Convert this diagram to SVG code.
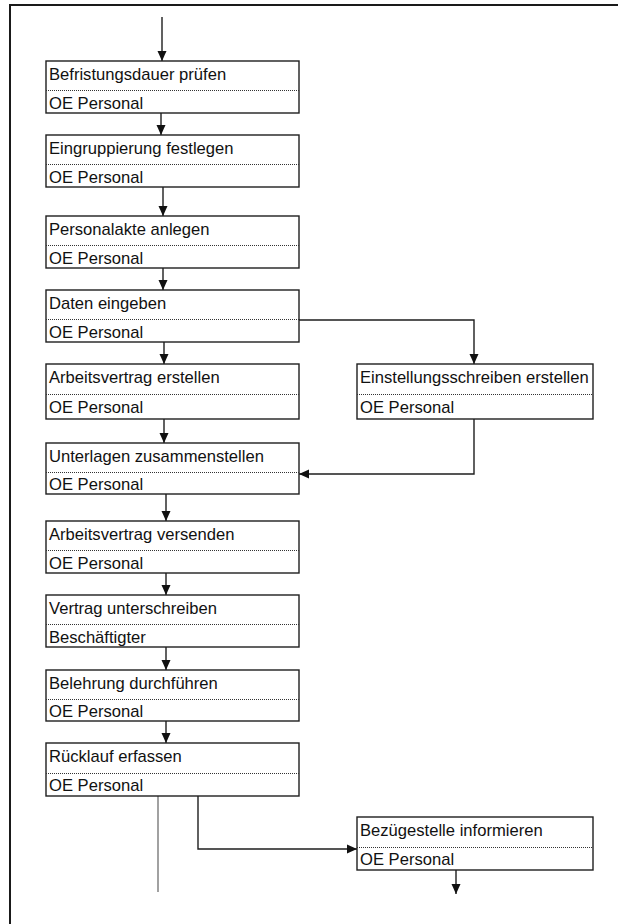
<svg xmlns="http://www.w3.org/2000/svg" width="618" height="924" viewBox="0 0 618 924">
<style>
.box{fill:#fff;stroke:#1e1e1e;stroke-width:1.4}
.sep{stroke:#333;stroke-width:1;stroke-dasharray:1 1}
.t{font-family:"Liberation Sans",Arial,sans-serif;font-size:16.6px;fill:#111}
.c{fill:none;stroke:#1e1e1e;stroke-width:1.4}
.g{fill:none;stroke:#8a8a8a;stroke-width:1.6}
</style>
<defs>
<marker id="ah" markerWidth="10" markerHeight="10" viewBox="0 0 10 10" refX="10" refY="5" orient="auto" markerUnits="userSpaceOnUse">
<path d="M0,0.5 L10,5 L0,9.5 Z" fill="#111"/>
</marker>
</defs>
<rect x="0" y="0" width="618" height="924" fill="#fff"/>
<path d="M10,924 V5 H618" fill="none" stroke="#1a1a1a" stroke-width="2"/>

<g id="connectors">
<path class="c" d="M162,17 V61" marker-end="url(#ah)"/>
<path class="c" d="M161,113 V135" marker-end="url(#ah)"/>
<path class="c" d="M163,187 V216" marker-end="url(#ah)"/>
<path class="c" d="M163,268 V290" marker-end="url(#ah)"/>
<path class="c" d="M164,342 V364" marker-end="url(#ah)"/>
<path class="c" d="M164,419 V443" marker-end="url(#ah)"/>
<path class="c" d="M166,494 V521" marker-end="url(#ah)"/>
<path class="c" d="M166,573 V595" marker-end="url(#ah)"/>
<path class="c" d="M166,647 V670" marker-end="url(#ah)"/>
<path class="c" d="M166,721 V743" marker-end="url(#ah)"/>
<path class="c" d="M299,320 H474 V364" marker-end="url(#ah)"/>
<path class="c" d="M474,419 V474 H299" marker-end="url(#ah)"/>
<path class="g" d="M158,796 V892"/>
<path class="c" d="M198,796 V849 H357" marker-end="url(#ah)"/>
<path class="c" d="M456,870 V894" marker-end="url(#ah)"/>
</g>

<g id="n1">
<rect class="box" x="46" y="61" width="253" height="52"/>
<line class="sep" x1="46" y1="90.5" x2="299" y2="90.5"/>
<text class="t" x="49" y="80">Befristungsdauer prüfen</text>
<text class="t" x="49" y="108.5">OE Personal</text>
</g>
<g id="n2">
<rect class="box" x="46" y="135" width="253" height="52"/>
<line class="sep" x1="46" y1="164.5" x2="299" y2="164.5"/>
<text class="t" x="49" y="154">Eingruppierung festlegen</text>
<text class="t" x="49" y="182.5">OE Personal</text>
</g>
<g id="n3">
<rect class="box" x="46" y="216" width="253" height="52"/>
<line class="sep" x1="46" y1="245.5" x2="299" y2="245.5"/>
<text class="t" x="49" y="235">Personalakte anlegen</text>
<text class="t" x="49" y="263.5">OE Personal</text>
</g>
<g id="n4">
<rect class="box" x="46" y="290" width="253" height="52"/>
<line class="sep" x1="46" y1="319.5" x2="299" y2="319.5"/>
<text class="t" x="49" y="309">Daten eingeben</text>
<text class="t" x="49" y="337.5">OE Personal</text>
</g>
<g id="n5">
<rect class="box" x="46" y="364" width="253" height="55"/>
<line class="sep" x1="46" y1="394.5" x2="299" y2="394.5"/>
<text class="t" x="49" y="383">Arbeitsvertrag erstellen</text>
<text class="t" x="49" y="413">OE Personal</text>
</g>
<g id="n6">
<rect class="box" x="46" y="443" width="253" height="51"/>
<line class="sep" x1="46" y1="472.5" x2="299" y2="472.5"/>
<text class="t" x="49" y="462">Unterlagen zusammenstellen</text>
<text class="t" x="49" y="490">OE Personal</text>
</g>
<g id="n7">
<rect class="box" x="46" y="521" width="253" height="52"/>
<line class="sep" x1="46" y1="550.5" x2="299" y2="550.5"/>
<text class="t" x="49" y="540">Arbeitsvertrag versenden</text>
<text class="t" x="49" y="568.5">OE Personal</text>
</g>
<g id="n8">
<rect class="box" x="46" y="595" width="253" height="52"/>
<line class="sep" x1="46" y1="624.5" x2="299" y2="624.5"/>
<text class="t" x="49" y="614">Vertrag unterschreiben</text>
<text class="t" x="49" y="642.5">Beschäftigter</text>
</g>
<g id="n9">
<rect class="box" x="46" y="670" width="253" height="51"/>
<line class="sep" x1="46" y1="699.5" x2="299" y2="699.5"/>
<text class="t" x="49" y="689">Belehrung durchführen</text>
<text class="t" x="49" y="717">OE Personal</text>
</g>
<g id="n10">
<rect class="box" x="46" y="743" width="253" height="53"/>
<line class="sep" x1="46" y1="773.5" x2="299" y2="773.5"/>
<text class="t" x="49" y="762">Rücklauf erfassen</text>
<text class="t" x="49" y="791">OE Personal</text>
</g>
<g id="r1">
<rect class="box" x="357" y="364" width="236" height="55"/>
<line class="sep" x1="357" y1="394.5" x2="593" y2="394.5"/>
<text class="t" x="360" y="383">Einstellungsschreiben erstellen</text>
<text class="t" x="360" y="413">OE Personal</text>
</g>
<g id="r2">
<rect class="box" x="357" y="817" width="236" height="53"/>
<line class="sep" x1="357" y1="847.5" x2="593" y2="847.5"/>
<text class="t" x="360" y="836">Bezügestelle informieren</text>
<text class="t" x="360" y="865">OE Personal</text>
</g>
</svg>
